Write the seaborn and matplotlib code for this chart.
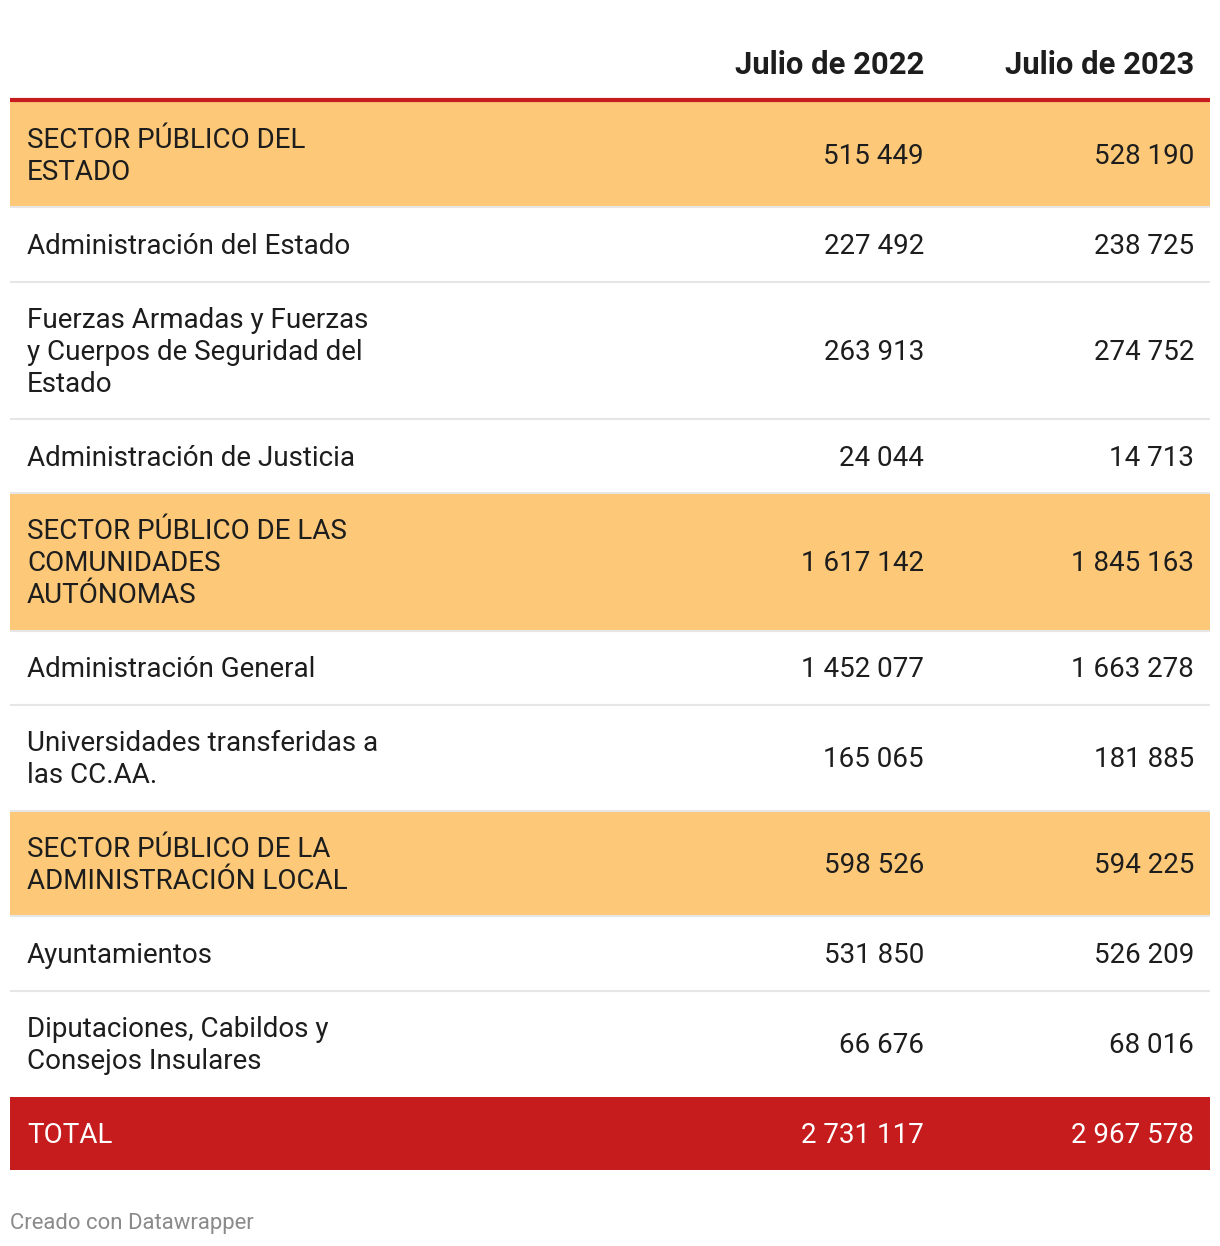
import pandas as pd
import seaborn as sns
import matplotlib
matplotlib.use("Agg")
import matplotlib.pyplot as plt

# datos de la tabla
etiquetas = [
    "SECTOR PÚBLICO DEL\nESTADO",
    "Administración del Estado",
    "Fuerzas Armadas y Fuerzas\ny Cuerpos de Seguridad del\nEstado",
    "Administración de Justicia",
    "SECTOR PÚBLICO DE LAS\nCOMUNIDADES\nAUTÓNOMAS",
    "Administración General",
    "Universidades transferidas a\nlas CC.AA.",
    "SECTOR PÚBLICO DE LA\nADMINISTRACIÓN LOCAL",
    "Ayuntamientos",
    "Diputaciones, Cabildos y\nConsejos Insulares",
    "TOTAL",
]
julio_2022 = [515449, 227492, 263913, 24044, 1617142, 1452077, 165065, 598526, 531850, 66676, 2731117]
julio_2023 = [528190, 238725, 274752, 14713, 1845163, 1663278, 181885, 594225, 526209, 68016, 2967578]
tipo = ["sector", "fila", "fila", "fila", "sector", "fila", "fila", "sector", "fila", "fila", "total"]
columnas = ["Julio de 2022", "Julio de 2023"]

df = pd.DataFrame({"Etiqueta": etiquetas, columnas[0]: julio_2022,
                   columnas[1]: julio_2023, "Tipo": tipo})

sns.set_theme(style="white")
plt.rcParams["font.family"] = ["Roboto", "DejaVu Sans"]

NARANJA = "#fdc978"
ROJO = "#c61c1d"
TEXTO = "#1d1d1d"
GRIS = "#e6e6e6"

fig = plt.figure(figsize=(12.2, 12.46), dpi=100)
ax = fig.add_axes([0, 0, 1, 1])
ax.set_xlim(0, 1220)
ax.set_ylim(1246, 0)
ax.axis("off")

izq, der = 10, 1210
x_texto = 27
x_cols = [924, 1194]
fs = 20

# cabecera
for x, c in zip(x_cols, columnas):
    ax.text(x, 65, c, ha="right", va="center", fontsize=22.3,
            fontweight="bold", color=TEXTO)

y = 101.5
for _, fila in df.iterrows():
    n = fila["Etiqueta"].count("\n") + 1
    alto = 73 if fila["Tipo"] == "total" else 43 + 31.4 * n
    if fila["Tipo"] == "sector":
        ax.fill_between([izq, der], y, y + alto, color=NARANJA, lw=0)
    elif fila["Tipo"] == "total":
        ax.fill_between([izq, der], y, y + alto, color=ROJO, lw=0)
    color = "white" if fila["Tipo"] == "total" else TEXTO
    yc = y + alto / 2 + 2
    ax.text(x_texto, yc, fila["Etiqueta"], ha="left", va="center",
            fontsize=fs, color=color, linespacing=1.24)
    for x, c in zip(x_cols, columnas):
        txt = f"{fila[c]:,}".replace(",", " ")
        ax.text(x, yc, txt, ha="right", va="center", fontsize=fs, color=color)
    if fila["Tipo"] != "total" and fila["Etiqueta"] != etiquetas[-2]:
        ax.plot([izq, der], [y + alto, y + alto], color=GRIS, lw=1.5,
                solid_capstyle="butt")
    y += alto

# linea roja bajo la cabecera
ax.plot([izq, der], [100, 100], color=ROJO, lw=3, solid_capstyle="butt")

ax.text(10, 1224, "Creado con Datawrapper", ha="left", va="center",
        fontsize=15.9, color="#8a8a8a")

fig.savefig("out.png", dpi=100, facecolor="white")
